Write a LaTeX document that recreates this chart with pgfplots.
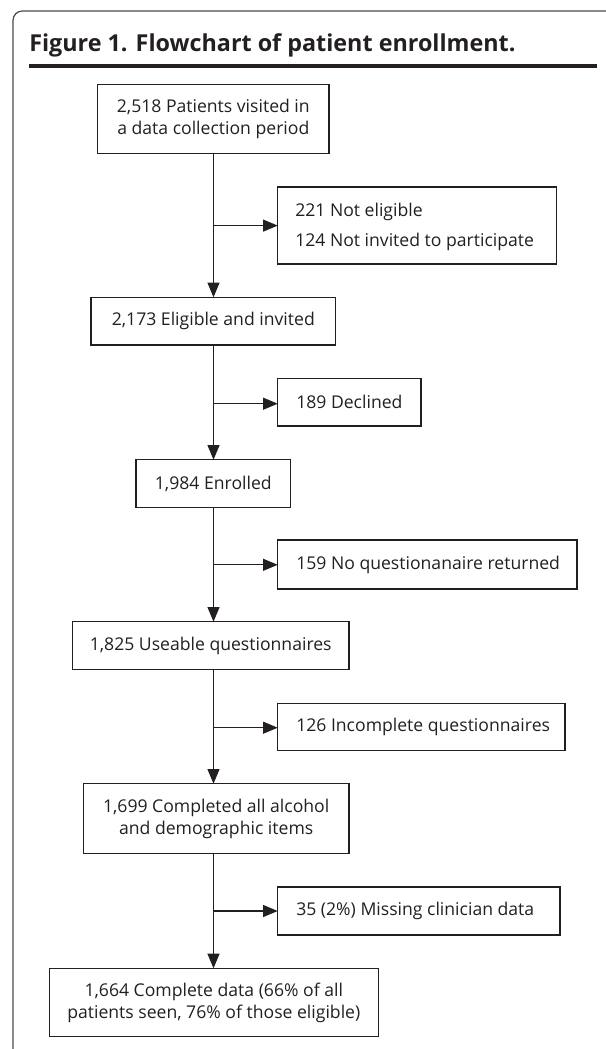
\documentclass[border=0pt]{standalone}
\usepackage{pgfplots}
\pgfplotsset{compat=1.18}
\usepackage{fontspec}
\setmainfont{Open Sans}
\usetikzlibrary{arrows.meta}
\definecolor{ink}{HTML}{231F20}
\definecolor{framec}{HTML}{4A4A4A}
\begin{document}
\begin{tikzpicture}[
  box/.style={draw=ink, line width=0.85pt},
  txt/.style={font=\fontsize{13.2}{16.5}\selectfont, text=ink, align=center, inner sep=0pt},
  arr/.style={draw=ink, line width=0.85pt, -{Triangle[length=11pt,width=9pt]}},
]
\begin{axis}[
  scale only axis, width=454.5pt, height=786.75pt,
  xmin=0, xmax=606, ymin=0, ymax=1049, y dir=reverse,
  hide axis, clip=false,
]
\addplot[draw=none] coordinates {(0,0) (606,1049)};
% outer frame
\draw[overlay, framec, line width=0.9pt, rounded corners=7pt] (640,11) -- (13,11) -- (13,1060) -- (60,1060);
% title and rule
\node[anchor=base west, inner sep=0pt, text=ink, font=\fontsize{17.5}{21}\selectfont\bfseries] at (29,52) {Figure 1. Flowchart of patient enrollment.};
\draw[ink, line width=3.4pt] (29,65.8) -- (597,65.8);
% main column boxes
\draw[box] (97.7,84.3) rectangle (329,153.3);
\node[txt] at (213.3,118.8) {2,518 Patients visited in\\a data collection period};
\draw[box] (91,297.3) rectangle (335.7,345);
\node[txt] at (213.3,321.2) {2,173 Eligible and invited};
\draw[box] (136,459.7) rectangle (290.7,507.7);
\node[txt] at (213.3,483.7) {1,984 Enrolled};
\draw[box] (72.3,621.7) rectangle (349,669.7);
\node[txt] at (210.7,645.7) {1,825 Useable questionnaires};
\draw[box] (83.3,783.7) rectangle (349,853.7);
\node[txt] at (216.2,818.7) {1,699 Completed all alcohol\\and demographic items};
\draw[box] (49.3,968.3) rectangle (378.3,1036.7);
\node[txt] at (213.8,1002.5) {1,664 Complete data (66\% of all\\patients seen, 76\% of those eligible)};
% side boxes
\draw[box] (277.7,187) rectangle (556.7,264);
\node[txt, anchor=west] at (295,211.7) {221 Not eligible};
\node[txt, anchor=west] at (295,241.7) {124 Not invited to participate};
\draw[box] (277.7,378.5) rectangle (421,426);
\node[txt, anchor=west] at (296,402.2) {189 Declined};
\draw[box] (277.7,540) rectangle (577,589);
\node[txt, anchor=west] at (296,564.5) {159 No questionanaire returned};
\draw[box] (277.7,703.3) rectangle (565,750.7);
\node[txt, anchor=west] at (296,727) {126 Incomplete questionnaires};
\draw[box] (277.7,887) rectangle (560,935);
\node[txt, anchor=west] at (296,911) {35 (2\%) Missing clinician data};
% vertical arrows
\draw[arr] (213.5,153.3) -- (213.5,297.3);
\draw[arr] (213.5,345) -- (213.5,459.7);
\draw[arr] (213.5,507.7) -- (213.5,621.7);
\draw[arr] (213.5,669.7) -- (213.5,783.7);
\draw[arr] (213.5,853.7) -- (213.5,968.3);
% horizontal arrows
\draw[arr] (213.5,225.6) -- (277.7,225.6);
\draw[arr] (213.5,403.7) -- (277.7,403.7);
\draw[arr] (213.5,564.8) -- (277.7,564.8);
\draw[arr] (213.5,727.7) -- (277.7,727.7);
\draw[arr] (213.5,911) -- (277.7,911);
\end{axis}
\end{tikzpicture}
\end{document}
